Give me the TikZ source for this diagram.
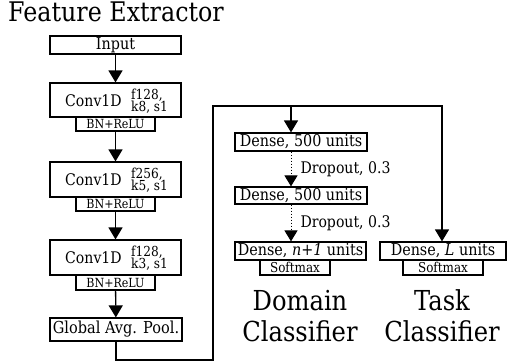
\documentclass[tikz,border=0pt]{standalone}
\usepackage{fontspec}
\setmainfont{DejaVu Serif}[FakeStretch=0.88]
\usetikzlibrary{arrows.meta,calc}
\begin{document}
\begin{tikzpicture}[x=1pt,y=-1pt,
  box/.style={draw,line width=1.2pt,rectangle,inner sep=0pt,font=\fontsize{16.3}{18}\selectfont},
  small/.style={draw,line width=1.2pt,rectangle,inner sep=0pt,font=\fontsize{12.6}{13}\selectfont},
  softbox/.style={small,font=\fontsize{13.6}{14}\selectfont},
  conn/.style={line width=1.3pt},
  arr/.style={line width=1.3pt,-{Triangle[width=14pt,length=12pt]}},
  darr/.style={line width=1pt,dotted,-{Triangle[width=13pt,length=11pt]}},
  droplbl/.style={right=9pt,font=\fontsize{16}{17}\selectfont,inner sep=0pt},
  big/.style={font=\fontsize{27.5}{30}\selectfont,inner sep=0pt,anchor=base},
  convt/.style={anchor=west,inner sep=0pt,font=\fontsize{16}{17}\selectfont},
  params/.style={font=\fontsize{13.8}{12.5}\selectfont,align=left,inner sep=0pt,anchor=west}]
\useasboundingbox (0,0) rectangle (507,364);
\node[anchor=base west,inner sep=0pt,font=\fontsize{27}{30}\selectfont] (title) at (8,21) {Feature Extractor};
\node[box,minimum width=131pt,minimum height=18pt] (input) at (115.5,45) {Input};
\node[box,minimum width=131pt,minimum height=34pt] (conv1) at (115.5,100) {};
\node[small,minimum width=79pt,minimum height=14pt] (bn1) at (115.5,124) {BN+ReLU};
\node[box,minimum width=131pt,minimum height=35pt] (conv2) at (115.5,179.5) {};
\node[small,minimum width=79pt,minimum height=14pt] (bn2) at (115.5,204) {BN+ReLU};
\node[box,minimum width=131pt,minimum height=35pt] (conv3) at (115.5,257.5) {};
\node[small,minimum width=79pt,minimum height=15pt] (bn3) at (115.5,282.5) {BN+ReLU};
\node[convt] (c1t) at (65,101) {Conv1D};
\node[params] (c1p) at (131,101) {f128,\\k8, s1};
\node[convt] (c2t) at (65,180) {Conv1D};
\node[params] (c2p) at (131,180) {f256,\\k5, s1};
\node[convt] (c3t) at (65,258) {Conv1D};
\node[params] (c3p) at (131,258) {f128,\\k3, s1};
\node[box,font=\fontsize{16.5}{18}\selectfont,minimum width=132pt,minimum height=23pt] (gap) at (116,329.5) {Global Avg. Pool.};
\node[box,minimum width=132pt,minimum height=18pt] (d1) at (301,142) {Dense, 500 units};
\node[box,minimum width=132pt,minimum height=17pt] (d2) at (301,195.5) {Dense, 500 units};
\node[box,minimum width=131pt,minimum height=18pt] (d3) at (300.5,251) {Dense, \textit{n+1} units};
\node[softbox,minimum width=70pt,minimum height=15pt] (sm1) at (295,267.5) {Softmax};
\node[box,minimum width=126pt,minimum height=18pt] (dl) at (443,251) {Dense, \textit{L} units};
\node[softbox,minimum width=80pt,minimum height=15pt] (sm2) at (443,267.5) {Softmax};
\node[big] (dom1) at (300,310) {Domain};
\node[big] (dom2) at (300,341) {Classifier};
\node[big] (task1) at (442,310) {Task};
\node[big] (task2) at (442,341) {Classifier};
\coordinate (bl) at (213,360);
\coordinate (tl) at (213,106);
\coordinate (jd) at (291,106);
\coordinate (tr) at (442,106);
\draw[arr] (input) -- (conv1);
\draw[arr] (bn1) -- (conv2);
\draw[arr] (bn2) -- (conv3);
\draw[arr] (bn3) -- (gap);
\draw[conn] (gap.south) |- (bl) -- (tl) -- (tr);
\draw[arr] (tl) -- (tr) -- (tr |- dl.north);
\draw[arr] (jd) -- (jd |- d1.north);
\draw[darr] (d1.south -| jd) -- node[droplbl] (do1) {Dropout, 0.3} (d2.north -| jd);
\draw[darr] (d2.south -| jd) -- node[droplbl] (do2) {Dropout, 0.3} (d3.north -| jd);
\end{tikzpicture}
\end{document}
